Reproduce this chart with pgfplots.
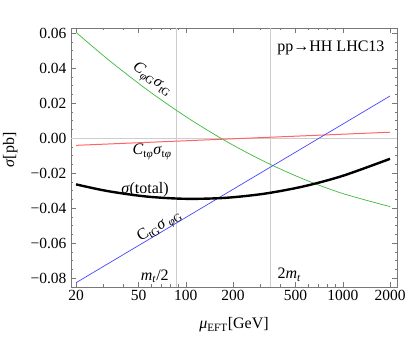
\documentclass[border=0pt]{standalone}
\usepackage{fontspec}
\setmainfont{Liberation Serif}
\usepackage{pgfplots}
\pgfplotsset{compat=1.18}
\definecolor{cgreen}{RGB}{60,185,60}
\definecolor{cblue}{RGB}{70,70,255}
\definecolor{cred}{RGB}{255,100,100}
\definecolor{cframe}{RGB}{120,120,120}
\definecolor{cgrid}{RGB}{205,205,205}
\begin{document}
\begin{tikzpicture}
\begin{axis}[
  at={(0,0)}, anchor=south west,
  scale only axis, width=326pt, height=259pt,
  xmode=log, xmin=18.58, xmax=2216, ymin=-0.08514, ymax=0.06286,
  xtick={20,50,100,200,500,1000,2000},
  xticklabels={20,50,100,200,500,1000,2000},
  minor xtick={30,40,60,70,80,90,300,400,600,700,800,900},
  ytick={-0.08,-0.06,-0.04,-0.02,0,0.02,0.04,0.06},
  yticklabels={−0.08,−0.06,−0.04,−0.02,0.00,0.02,0.04,0.06},
  scaled y ticks=false,
  minor y tick num=3,
  tick align=inside, xtick pos=both, ytick pos=both,
  major tick length=5pt, minor tick length=2.5pt,
  axis line style={cframe},
  every tick/.style={cframe},
  tick label style={font=\fontsize{15.5}{17}\selectfont, black},
  yticklabel style={xshift=-1pt},
  /pgf/number format/assume math mode=true,
  xlabel={\textit{μ}\textsubscript{EFT}[GeV]},
  ylabel={\textit{σ}[pb]},
  label style={font=\fontsize{16}{18}\selectfont},
  xlabel style={at={(axis description cs:0.5,-0.147)}, anchor=center},
  ylabel style={at={(axis description cs:-0.186,0.529)}, anchor=center, rotate=0},
  clip mode=individual,
]
\addplot[cgrid, line width=0.6pt, forget plot] coordinates {(86.5,-0.08514) (86.5,0.06286)};
\addplot[cgrid, line width=0.6pt, forget plot] coordinates {(346,-0.08514) (346,0.06286)};
\addplot[cgrid, line width=0.6pt, forget plot] coordinates {(18.58,0) (2216,0)};
% C_phiG sigma_tG
\addplot[cgreen, line width=0.7pt, smooth] coordinates {
 (20,0.0604) (31.62,0.04523) (56.23,0.02782) (100,0.01224) (177.8,-0.0015)
 (316.2,-0.01341) (562.3,-0.02349) (1000,-0.03173) (2000,-0.0392)};
% C_tphi sigma_tphi
\addplot[cred, line width=1.0pt, smooth] coordinates {
 (20,-0.0042) (31.62,-0.00345) (56.23,-0.00252) (100,-0.00158) (177.8,-0.00064)
 (316.2,0.0003) (562.3,0.00123) (1000,0.00217) (2000,0.0033)};
% C_tG sigma_phiG
\addplot[cblue, line width=0.7pt, smooth] coordinates {
 (20,-0.0827) (31.62,-0.07208) (56.23,-0.05875) (100,-0.04541) (177.8,-0.03207)
 (316.2,-0.01873) (562.3,-0.0054) (1000,0.00794) (2000,0.024)};
% total
\addplot[black, line width=2.4pt, smooth] coordinates {
 (20,-0.0265) (31.62,-0.0303) (56.23,-0.03345) (100,-0.03475) (177.8,-0.03421)
 (316.2,-0.03184) (562.3,-0.02766) (1000,-0.02162) (2000,-0.0119)};

\node[rotate=-37, font=\fontsize{16}{18}\selectfont] at (axis cs:61,0.0331)
  {\textit{C}\textsubscript{\textit{φ}G}\textit{σ}\textsubscript{tG}};
\node[font=\fontsize{16}{18}\selectfont] at (axis cs:61,-0.008)
  {\textit{C}\textsubscript{t\textit{φ}}\textit{σ}\textsubscript{t\textit{φ}}};
\node[font=\fontsize{16}{18}\selectfont] at (axis cs:55,-0.0297)
  {\textit{σ}(total)};
\node[rotate=31, font=\fontsize{16}{18}\selectfont] at (axis cs:68.5,-0.0509)
  {C\textsubscript{tG}\textit{σ}\,\textsubscript{\textit{φ}G}};
\node[anchor=east, font=\fontsize{16}{18}\selectfont] at (axis cs:82,-0.0789)
  {\textit{m}\textsubscript{\textit{t}}/2};
\node[anchor=west, font=\fontsize{16}{18}\selectfont] at (axis cs:365,-0.0783)
  {2\textit{m}\textsubscript{\textit{t}}};
\node[font=\fontsize{16}{18}\selectfont] at (axis cs:841,0.0514)
  {pp→HH LHC13};
\end{axis}
\pgfresetboundingbox
\path[use as bounding box] (-71pt,-52pt) rectangle (336pt,287pt);
\end{tikzpicture}
\end{document}
